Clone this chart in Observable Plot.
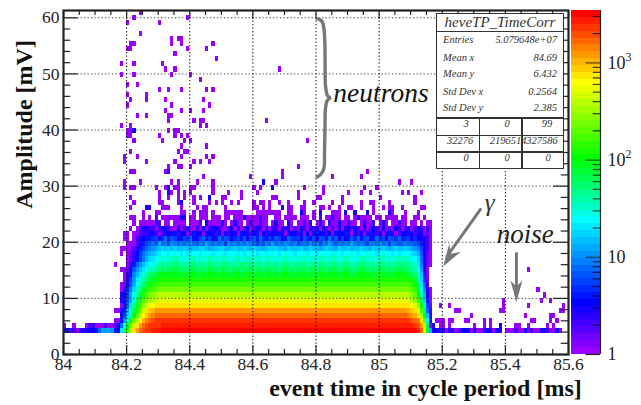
<!DOCTYPE html>
<html><head><meta charset="utf-8">
<script src="https://cdn.jsdelivr.net/npm/d3@7"></script>
<script src="https://cdn.jsdelivr.net/npm/@observablehq/plot@0.6"></script>
<style>
html,body{margin:0;padding:0;background:#fff}
#wrap{position:relative;width:641px;height:405px;display:flex;overflow:hidden;font-family:"Liberation Serif",serif}
#stats{position:absolute;left:436px;top:13px;width:126px;height:154px;background:#fff;border:1.5px solid #333;color:#333;font-style:italic;font-size:10.5px}
#stats span{position:absolute;white-space:nowrap;line-height:12px}
#stats i{position:absolute;background:#333;display:block}
</style></head><body><div id="wrap"></div>
<script>
// ---- data ----
const bandCount = 50, zMax = 3460;
const paletteStops = [[0,"#9900ff"],[7,"#0000ff"],[19,"#00ffff"],[28,"#00ff00"],[39,"#ffff00"],[49,"#ff0000"]];
const xLabels = [84,84.2,84.4,84.6,84.8,85,85.2,85.4,85.6];
const yLabels = [0,10,20,30,40,50,60];
const xGrid = [84.2,84.4,84.6,84.8,85,85.2,85.4];
const yGrid = [10,20,30,40,50,60];
const zMajor = [1,10,100,1000];
const zMinor = [2,3,4,5,6,7,8,9,20,30,40,50,60,70,80,90,200,300,400,500,600,700,800,900,2000,3000];
const statNames = ["Entries","Mean x","Mean y","Std Dev x","Std Dev y"];
const statValues = ["5.079648e+07","84.69","6.432","0.2564","2.385"];
const overflowCells = [["3","0","99"],["32276","2196514","327586"],["0","0","0"]];

// body rows: colour band per row, with hand-read ramps at the rising and falling edges
const bodyRow = [4,5,6,7,8,9,10,11,12,13,14];
const bodyLeftStart = [0,0,16,18,16,18,18,18,18,18,19];
const bodyLeft = [
 [6,6,3,4,0,6,5,6,6,7,8,12,15,14,15,14,8,7,18,24,30,36,40,43,45,46,47,47,48,48,48],
 [0,-1,-1,0,-1,-1,-1,0,4,4,0,0,0,4,0,0,4,6,12,20,28,33,37,40,43,45,46,47,47,47,47,48],
 [0,0,8,14,21,27,32,36,39,42,44,45,46],
 [6,10,17,22,27,32,36,39,41,43,44],
 [0,0,6,8,15,20,25,29,33,37,40,41,42],
 [0,6,12,18,23,27,31,34,37,38,39],
 [6,6,11,15,20,25,29,32,34,35,36,37],
 [6,6,10,15,19,23,26,29,31,33,34,35],
 [0,5,9,13,17,21,24,27,29,30,31,32],
 [0,2,6,11,15,19,22,24,26,28,29,30],
 [0,5,10,14,18,20,22,24,26,27,28]
];
const bodyPlateau = [49,48,47,45,43,40,38,36,33,31,29];
const bodyRightStart = [112,111,110,109,109,109,110,110,110,110,110];
const bodyRight = [
 [48,45,38,27,15,7],[47,46,43,36,25,12,6],[46,45,44,40,32,20,8],[44,43,42,40,35,27,16,6],
 [42,41,40,37,31,23,12,4],[40,39,37,34,28,20,10,2],[36,34,31,25,17,8,0],[34,32,28,22,15,6,0],
 [32,30,26,20,13,5,0],[30,28,24,18,11,4],[28,26,22,17,9,2]
];

// textured rows: one base-36 colour band per column, from column 18 to 117
const texturedRow = [15,16,17,18,19,20,21,22,23,24,25,26];
const texturedBands = [
 ".048dgikmo pqrsrrsrqr rqrsqrrqsr rqsrrqrsqr rsqrrqsrqr qrsqrqrrsq rrqsrqrsrq rsrqqrsrrq rqsrqrqrsr rqpolg81..",
 "0027begikl mnopoppqpo popqoppoqp poqppopqop pqoppoqpop opqopoppqo ppoqpopqpo pqpoopqppo poqpopopqp ponmje71..",
 "..058cegij klmnmnnonm nmnonnmnon mnnomnnmon nomnnmonmn mnonmnonnm nnmonmnnom nonmmnonnm nmonmnmnon nnmlid720.",
 "..0358adfh ijklkllmlk lklmkllkml lkmllklmkl lmkllkmlkl klmklkllmk llkmlklmlk lmlkklmllk lkmlklklml llkjhc620.",
 "0.0247acef ghijjijkji jikjjijkji jjkijjkiji jkjijjijkj ijkjjijjki jjijkjjikj ijjkjijjkj jijkjjijij jjihfb620.",
 "0000358acd efghghghgg hgfgghhgfg ghhgfghggh gfhggfghgh ggfhggghfg hggfghggfh gghfgghggf hgghgfghgg hgfeda540.",
 "..000468ab cbfcdaedcd cdecbdcfdc dcdaecdcdc edcacbdcfc dcedcdacdc ecdadcfdbd cdcfdcdcad dcecdadcbc dccba8640.",
 ".00.046788 9a69c8ba68 a9c68ab8a6 8c9ba69a8b 6ab8c96a8b a68ca9a6b9 8a6ba8c9b6 a68b9c8ab6 8c9a6ba9c8 9a6976640.",
 ".00.004446 6404676847 7048670776 4806476087 6468074676 8606764807 0687647086 7860646068 6470786046 766466040.",
 "...0.04664 4046640060 4600406046 6400460604 6046406064 0646040640 6460640406 0664640604 6406040640 460464040.",
 "....0.0000 044.00.000 0.0004.600 0060.0600. 0600400.06 00.60.0040 6.060.4006 00600.0600 4.060.0040 0.00.0.00.",
 "...00..0.0 .4.0000006 6.00.000.0 00.00.0006 0000600..0 0.0000.000 .0.4.00600 .00.060000 .00.0000.0 0..00.0..."
];
// low noise along row 4 after the fall, from column 118
const row4Tail = "646046046760600466066.000400604006640060";

// isolated single counts: row and its columns
const scatterRow = [66,65,64,62,61,60,59,58,57,56,55,54,53,52,51,50,49,48,47,46,45,44,43,42,41,40,39,38,37,36,35,34,33,32,31,30,29,28,27,
 17,16,12,11,10,9,8,7,6,5];
const scatterCols = [
 [24],[22,39],[20,30],[24],[34,36,37],[21,22,34,37,47],[20,21,39,45],[35],[48],[18,22,31],[32,35,68],[18,22,34,40],[43],[20,23],
 [30,33,37,45,47],[20,26],[21,26,32,44],[20,34,46],[32,37,40,44],[23,26,33,34],[33,41,43,44,64],[18,21,43,45],[20,21,33,35,36],
 [20,21,30,35,37,39],[22,31,38,40,77],[37,45],[21,36,38,39],[19,23,37,45,47],[19,26,35,41,43,46],[33,36,37,40,74],[21,22,32,69,96],
 [44,59,69,85,94],[19,24,34,36,42,47,63,67,106,110],[19,21,22,29,32,35,36,40,41,47,60,62,76,82,95,99],
 [30,34,36,38,40,47,52,56,61,74,82,90,94,97,107,109,113],[21,30,33,36,38,41,43,50,51,56,66,67,74,80,81,88,100,111],
 [22,30,31,36,41,46,48,50,53,55,60,62,63,65,68,71,76,79,85,88,94,97,98,103,111],
 [21,31,32,33,37,42,44,45,51,60,61,63,65,71,72,75,76,81,82,84,87,90,91,94,98,101,103,104,107,113,114],
 [25,29,30,37,38,41,43,44,45,47,51,52,53,54,55,56,61,62,63,64,65,66,67,68,71,72,76,79,85,86,87,98,104,108,112],
 [16],[147],[150],[152],[139,151,154],[119,122,139,147,158],[124,125,138,139,157,158],[129,146,154,155],[118,119,120,122,123,127,128,133,135,148,149,154,156],
 [116,119,120,122,130,133,135,143,144,147,153,155]
];
// the few scattered cells with more counts (blue)
const blueRow = [43,35,33,32,32,31,30,29,28,28,28,27,27,27,27,27,27,5];
const blueCol = [22,33,63,33,66,33,46,37,26,27,69,75,81,89,92,96,103,138];

const annotationFont = "Liberation Serif";
// ---- build ----
const logMax = Math.log10(zMax);
const bandEdge = i => 10 ** (i * logMax / bandCount);
const thresholds = d3.range(1, bandCount).map(bandEdge);
const stopScale = d3.scaleLinear().domain(paletteStops.map(d=>d[0])).range(paletteStops.map(d=>d[1])).interpolate(d3.interpolateRgb);
const palette = d3.range(bandCount).map(i => stopScale(i));
const colW = 0.01, rowH = 0.915;
const cells = [];
const add = (c,r,b) => { if (b>=0) cells.push({x1:84+c*colW,x2:84+(c+1)*colW,y1:r*rowH,y2:(r+1)*rowH,z:bandEdge(b+0.5)}); };
bodyRow.forEach((r,i)=>{
  const ls=bodyLeftStart[i], lr=bodyLeft[i], rs=bodyRightStart[i], rr=bodyRight[i];
  lr.forEach((b,k)=>add(ls+k,r,b));
  for(let c=ls+lr.length;c<rs;c++) add(c,r,bodyPlateau[i]);
  rr.forEach((b,k)=>add(rs+k,r,b));
});
texturedRow.forEach((r,i)=>{
  [...texturedBands[i].replace(/ /g,"")].forEach((ch,k)=>{ if(ch!==".") add(18+k,r,parseInt(ch,36)); });
});
[...row4Tail].forEach((ch,k)=>{ if(ch!==".") add(118+k,4,parseInt(ch,36)); });
scatterRow.forEach((r,i)=>scatterCols[i].forEach(c=>add(c,r,0)));
blueRow.forEach((r,i)=>add(blueCol[i],r,6));

const xMax=85.6, yMax=61.3;
const xMin=84;
const xMinorT = d3.range(0,33).map(i=>84+i*0.05).filter(v=>Math.abs(v*5-Math.round(v*5))>1e-6);
const yMinorT = d3.range(2,62,2).filter(v=>v%10);
const xMajorT = xLabels, yMajorT = yLabels;
const gray="#777";
const arrows=[{x1:85.321,y1:25.85,x2:85.215,y2:17.5},{x1:85.435,y1:18,x2:85.435,y2:11.5}];
const heads=[
 [[85.203,15.7],[85.2586,18.3],[85.2278,17.95],[85.2218,19.68]],
 [[85.435,9.3],[85.454,13.2],[85.435,12.1],[85.416,13.2]]
];
const brace=[[84.804,59.84],[84.819,59.36],[84.825,58.1],[84.828,55.67],[84.829,50.6],[84.830,47.95],[84.836,46.17],[84.844,45.69],[84.836,45.3],[84.830,43.85],[84.8286,40.8],[84.827,36.36],[84.825,33.15],[84.8175,32.26],[84.804,31.6]];
const tickC="#222";
const main = Plot.plot({
  width:571,height:405,marginLeft:63,marginRight:3,marginTop:10,marginBottom:51,
  style:{fontFamily:annotationFont,background:"transparent",color:"#222",overflow:"visible"},
  x:{domain:[xMin,xMax],axis:null},
  y:{domain:[0,yMax],axis:null},
  color:{type:"threshold",domain:thresholds,range:palette},
  marks:[
    Plot.rect(cells,{x1:"x1",x2:"x2",y1:"y1",y2:"y2",fill:"z",shapeRendering:"crispEdges"}),
    Plot.ruleX(xGrid,{stroke:"#000",strokeDasharray:"1.3,2.2",strokeWidth:1}),
    Plot.ruleY(yGrid,{stroke:"#444",strokeDasharray:"1.3,2.2",strokeWidth:1}),
    // ticks, inside on all four sides
    Plot.ruleX(xMajorT,{y1:0,y2:1.6,stroke:tickC,strokeWidth:1.2}),
    Plot.ruleX(xMinorT,{y1:0,y2:0.9,stroke:tickC,strokeWidth:1.2}),
    Plot.ruleX(xMajorT,{y1:yMax,y2:yMax-1.6,stroke:tickC,strokeWidth:1.2}),
    Plot.ruleX(xMinorT,{y1:yMax,y2:yMax-0.9,stroke:tickC,strokeWidth:1.2}),
    Plot.ruleY(yMajorT,{x1:xMin,x2:xMin+0.047,stroke:tickC,strokeWidth:1.2}),
    Plot.ruleY(yMinorT,{x1:xMin,x2:xMin+0.023,stroke:tickC,strokeWidth:1.2}),
    Plot.ruleY(yMajorT,{x1:xMax,x2:xMax-0.047,stroke:tickC,strokeWidth:1.2}),
    Plot.ruleY(yMinorT,{x1:xMax,x2:xMax-0.023,stroke:tickC,strokeWidth:1.2}),
    Plot.frame({stroke:"#222",strokeWidth:2.2}),
    Plot.axisX(xLabels,{anchor:"bottom",tickSize:0,tickPadding:3,fontSize:17.5,tickFormat:d=>String(d),fill:"#222"}),
    Plot.axisY(yLabels,{anchor:"left",tickSize:0,tickPadding:4,fontSize:17.5,fill:"#222"}),
    Plot.text(["event time in cycle period [ms]"],{x:xMax+0.042,y:0,dy:41,text:d=>d,textAnchor:"end",fontSize:24,fontWeight:"bold",fill:"#111",lineAnchor:"bottom"}),
    Plot.text(["Amplitude [mV]"],{x:xMin,y:41,dx:-39,text:d=>d,rotate:-90,fontSize:24,fontWeight:"bold",fill:"#111"}),
    // annotations
    Plot.line(brace,{x:d=>d[0],y:d=>d[1],curve:"catmull-rom",stroke:gray,strokeWidth:3.4,strokeLinecap:"round"}),
    Plot.arrow(arrows,{x1:"x1",y1:"y1",x2:"x2",y2:"y2",stroke:gray,strokeWidth:3,headLength:0}),
    ...heads.map(h=>Plot.line(h,{x:d=>d[0],y:d=>d[1],fill:gray,stroke:"none",curve:"linear-closed"})),
    Plot.text(["neutrons"],{x:84.855,y:46.6,text:d=>d,textAnchor:"start",fontSize:27.5,fontStyle:"italic",fill:"#111"}),
    Plot.text(["noise"],{x:85.373,y:21.4,text:d=>d,textAnchor:"start",fontSize:27,fontStyle:"italic",fill:"#222"}),
    Plot.text(["γ"],{x:85.335,y:27,text:d=>d,textAnchor:"start",fontSize:25,fontStyle:"italic",fill:"#333"})
  ]
});
const bands = d3.range(bandCount).map(i=>({y1:bandEdge(i),y2:bandEdge(i+1),z:bandEdge(i+0.5)}));
const zLabelText = ["1","10","10","10"];
const bar = Plot.plot({
  width:70,height:405,marginLeft:0,marginRight:41,marginTop:10,marginBottom:51,
  style:{fontFamily:annotationFont,background:"transparent",overflow:"visible"},
  x:{domain:[0,1],axis:null},
  y:{type:"log",domain:[1,zMax],axis:null},
  color:{type:"threshold",domain:thresholds,range:palette},
  marks:[
    Plot.rect(bands,{x1:0,x2:1,y1:"y1",y2:"y2",fill:"z",shapeRendering:"crispEdges"}),
    Plot.ruleY(zMajor.slice(1),{x1:0.5,x2:1,stroke:"#000",strokeOpacity:0.65,strokeWidth:1.2}),
    Plot.ruleY(zMinor,{x1:0.75,x2:1,stroke:"#000",strokeOpacity:0.75,strokeWidth:1.2}),
    Plot.ruleX([1],{stroke:"#222",strokeWidth:1.2}),
    Plot.ruleY([1],{x1:0.5,x2:1,stroke:"#222",strokeWidth:1.2}),
    Plot.text(zMajor,{x:1,y:d=>d,text:(d,i)=>zLabelText[i],dx:7,textAnchor:"start",fontSize:18,fill:"#222"}),
    Plot.text(["2","3"],{x:1,y:(d,i)=>zMajor[i+2],text:d=>d,dx:25,dy:-6,textAnchor:"start",fontSize:12,fill:"#222"})
  ]
});
const wrap=document.getElementById("wrap");
wrap.append(main,bar);
// statistics box
const st=document.createElement("div");st.id="stats";
const put=(txt,css)=>{const s=document.createElement("span");s.textContent=txt;s.style.cssText=css;st.append(s);};
const line=(css)=>{const l=document.createElement("i");l.style.cssText=css;st.append(l);};
put("heveTP_TimeCorr","left:0;width:126px;text-align:center;top:0.5px;font-size:15px;line-height:15px");
line("left:0;right:0;top:17px;height:1.2px");
const statTops=[19.5,37.5,53.5,71.5,87.5];
statNames.forEach((n,i)=>{put(n,`left:6px;top:${statTops[i]}px`);put(statValues[i],`right:6px;top:${statTops[i]}px`);});
line("left:0;right:0;top:103px;height:1.5px");
line("left:0;right:0;top:120.5px;height:1.5px");
line("left:0;right:0;top:137px;height:1.5px");
line("left:41.5px;width:1.5px;top:103px;bottom:0");
line("left:84px;width:1.5px;top:103px;bottom:0");
const cellCenters=[[29,70,110],[23,71,105],[29,70,111]];
const cellTops=[109,126,143];
overflowCells.forEach((row,r)=>row.forEach((t,c)=>put(t,`left:${cellCenters[r][c]-30}px;width:60px;text-align:center;top:${cellTops[r]-5}px`)));
wrap.append(st);
</script></body></html>
